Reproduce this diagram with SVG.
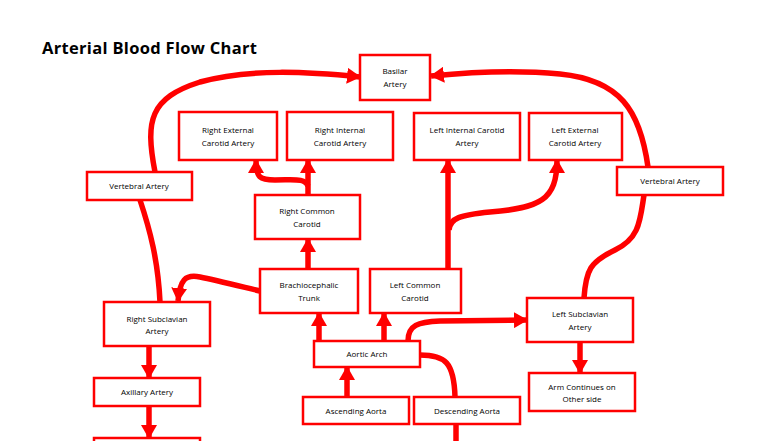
<svg xmlns="http://www.w3.org/2000/svg" width="784" height="441" viewBox="0 0 784 441">
<defs>
<marker id="ah" markerUnits="userSpaceOnUse" markerWidth="16" markerHeight="16" refX="13" refY="8" orient="auto"><path d="M0,0 L14,8 L0,16 Z" fill="#f00"/></marker>
<style>
.b{fill:#fff;stroke:#f00;stroke-width:2.5}
.t{font-family:"Open Sans","Liberation Sans",sans-serif;font-size:8px;fill:#000;text-anchor:middle}
.c{fill:none;stroke:#f00;stroke-width:5.5}
.a{marker-end:url(#ah)}
</style>
</defs>
<rect width="784" height="441" fill="#fff"/>
<text x="42" y="54" font-family="Open Sans, Liberation Sans, sans-serif" font-size="16.5" font-weight="bold" textLength="215">Arterial Blood Flow Chart</text>
<g id="connectors">
<path class="c a" d="M155,172 C145,120 150,98 200,82 C250,68 310,72 360,77"/>
<path class="c a" d="M648,167 C640,110 620,80 560,74 C520,70 470,72 431,76"/>
<path class="c" d="M160,302 C158,260 150,230 140,200"/>
<path class="c a" d="M260,291 C235,285 215,280 200,277 C185,274 180,280 178,301"/>
<path class="c a" d="M308,269 L308,239"/>
<path class="c a" d="M308,195 L308,160"/>
<path class="c a" d="M308,186 C305,178 295,180 275,180 C260,180 256,178 256,160"/>
<path class="c a" d="M448,269 L448,160"/>
<path class="c a" d="M449,230 C450,218 460,215 490,212 C540,208 557,200 557,160"/>
<path class="c" d="M584,298 C586,270 590,262 615,250 C640,238 640,220 644,195"/>
<path class="c a" d="M319,341 L319,313"/>
<path class="c a" d="M384,341 L384,313"/>
<path class="c a" d="M408,341 C408,325 418,322 440,321 L527,320"/>
<path class="c" d="M420,355 C445,355 454,362 455,397"/>
<path class="c a" d="M347,397 L347,367"/>
<path class="c a" d="M149,346 L149,378"/>
<path class="c a" d="M149,406 L149,438"/>
<path class="c a" d="M580,342 L580,373"/>
<path class="c" d="M456,424 L456,441"/>
</g>
<g id="basilar"><rect class="b" x="360" y="55" width="70" height="45"/><text class="t" x="395" y="74">Basilar</text><text class="t" x="395" y="87">Artery</text></g>
<g id="rext"><rect class="b" x="179" y="112" width="98" height="48"/><text class="t" x="228" y="133">Right External</text><text class="t" x="228" y="146">Carotid Artery</text></g>
<g id="rint"><rect class="b" x="287" y="112" width="106" height="48"/><text class="t" x="340" y="133">Right Internal</text><text class="t" x="340" y="146">Carotid Artery</text></g>
<g id="lint"><rect class="b" x="414" y="113" width="106" height="47"/><text class="t" x="467" y="133">Left Internal Carotid</text><text class="t" x="467" y="146">Artery</text></g>
<g id="lext"><rect class="b" x="529" y="113" width="93" height="47"/><text class="t" x="575" y="133">Left External</text><text class="t" x="575" y="146">Carotid Artery</text></g>
<g id="vertl"><rect class="b" x="87" y="172" width="105" height="28"/><text class="t" x="139" y="189">Vertebral Artery</text></g>
<g id="vertr"><rect class="b" x="617" y="167" width="106" height="28"/><text class="t" x="670" y="184">Vertebral Artery</text></g>
<g id="rcc"><rect class="b" x="255" y="195" width="105" height="44"/><text class="t" x="307" y="214">Right Common</text><text class="t" x="307" y="227">Carotid</text></g>
<g id="brach"><rect class="b" x="260" y="269" width="98" height="44"/><text class="t" x="309" y="288">Brachiocephalic</text><text class="t" x="309" y="301">Trunk</text></g>
<g id="lcc"><rect class="b" x="370" y="269" width="91" height="44"/><text class="t" x="415" y="288">Left Common</text><text class="t" x="415" y="301">Carotid</text></g>
<g id="rsub"><rect class="b" x="104" y="302" width="106" height="44"/><text class="t" x="157" y="322">Right Subclavian</text><text class="t" x="157" y="334">Artery</text></g>
<g id="lsub"><rect class="b" x="527" y="298" width="106" height="44"/><text class="t" x="580" y="317">Left Subclavian</text><text class="t" x="580" y="330">Artery</text></g>
<g id="arch"><rect class="b" x="314" y="341" width="106" height="26"/><text class="t" x="367" y="357">Aortic Arch</text></g>
<g id="axil"><rect class="b" x="94" y="378" width="106" height="28"/><text class="t" x="147" y="395">Axillary Artery</text></g>
<g id="arm"><rect class="b" x="529" y="373" width="106" height="38"/><text class="t" x="582" y="390">Arm Continues on</text><text class="t" x="582" y="402">Other side</text></g>
<g id="asc"><rect class="b" x="303" y="397" width="106" height="27"/><text class="t" x="356" y="414">Ascending Aorta</text></g>
<g id="desc"><rect class="b" x="414" y="397" width="106" height="27"/><text class="t" x="467" y="414">Descending Aorta</text></g>
<g id="next"><rect class="b" x="94" y="438" width="106" height="20"/></g>
</svg>
